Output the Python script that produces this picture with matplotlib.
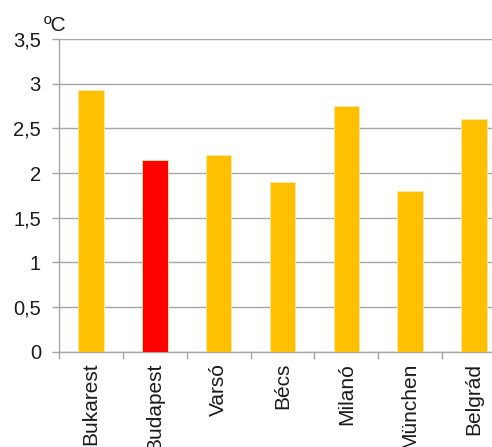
import matplotlib
matplotlib.use("Agg")
import matplotlib.pyplot as plt
import numpy as np

cities = ["Bukarest", "Budapest", "Varsó", "Bécs", "Milanó", "München", "Belgrád"]
warming = [2.93, 2.15, 2.20, 1.90, 2.75, 1.80, 2.60]
highlight = "Budapest"
yticks = [0, 0.5, 1, 1.5, 2, 2.5, 3, 3.5]
ytick_labels = ["0", "0,5", "1", "1,5", "2", "2,5", "3", "3,5"]

plt.rcParams["font.family"] = ["Liberation Sans", "DejaVu Sans"]

fig = plt.figure(figsize=(4.92, 4.47), dpi=100)
ax = fig.add_axes([59 / 492, 1 - 351.7 / 447, 447 / 492, (351.7 - 39) / 447])

x = np.arange(len(cities))
colors = ["#FF0000" if c == highlight else "#FFC000" for c in cities]
ax.bar(x, warming, width=0.4, color=colors, edgecolor="#FFE9A8", linewidth=0.6, zorder=3)

ax.set_xlim(-0.5, len(cities) - 0.5)
ax.set_ylim(0, 3.5)
ax.set_yticks(yticks)
ax.set_yticklabels(ytick_labels, fontsize=14.5, color="#1a1a1a")
ax.yaxis.grid(True, color="#a6a6a6", linewidth=1.0, zorder=0)
ax.tick_params(axis="y", length=5, width=1, color="#a6a6a6", pad=8)

ax.set_xticks(x)
ax.set_xticklabels(cities, rotation=90, fontsize=15, color="#1a1a1a")
ax.tick_params(axis="x", which="major", length=0, pad=8)
ax.set_xticks(np.arange(-0.5, len(cities), 1.0), minor=True)
ax.tick_params(axis="x", which="minor", length=5, width=1, color="#a6a6a6")

for side in ("top", "right"):
    ax.spines[side].set_visible(False)
for side in ("left", "bottom"):
    ax.spines[side].set_color("#a6a6a6")
    ax.spines[side].set_linewidth(1.0)

fig.text(44 / 492, 1 - 31 / 447, "ºC", fontsize=15, color="#1a1a1a", ha="left", va="baseline")

fig.savefig("out.png", dpi=100)
